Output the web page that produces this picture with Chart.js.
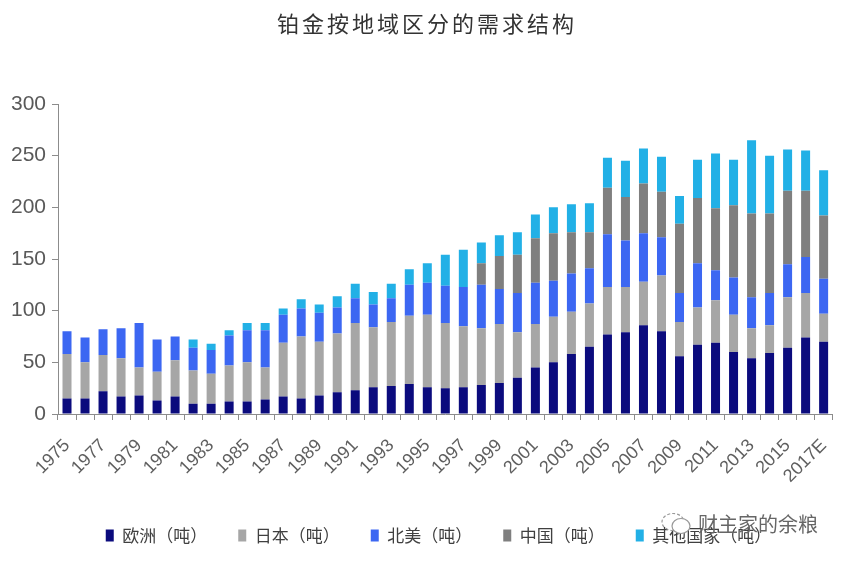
<!DOCTYPE html>
<html>
<head>
<meta charset="utf-8">
<script src="https://cdn.jsdelivr.net/npm/chart.js@4.4.0/dist/chart.umd.min.js"></script>
<style>
  html, body { margin: 0; padding: 0; background: #ffffff; }
  #wrap { position: relative; width: 854px; height: 562px; overflow: hidden; }
  #title { position: absolute; left: 0; top: 6px; width: 854px; text-align: center;
           font-family: "Noto Sans CJK SC", sans-serif; font-size: 22px; color: #333333; letter-spacing: 3px; }
  #wm { position: absolute; left: 660px; top: 509px; font-family: "Noto Sans CJK SC", sans-serif;
        font-size: 20px; color: #666666; display: flex; align-items: center; gap: 4px; }
</style>
</head>
<body>
<div id="wrap">
  <canvas id="c" width="854" height="562"></canvas>
  <div id="title">铂金按地域区分的需求结构</div>
  <div id="wm">
    <svg width="34" height="26" viewBox="0 0 34 26"><ellipse cx="13" cy="11" rx="11" ry="8.5" fill="none" stroke="#999" stroke-width="1.2" stroke-dasharray="3 2"/><ellipse cx="21" cy="15" rx="9" ry="7.5" fill="#fff" stroke="#999" stroke-width="1.2"/></svg>
    <span>财主家的余粮</span>
  </div>
</div>
<script>
const years = ["1975","1976","1977","1978","1979","1980","1981","1982","1983","1984","1985","1986","1987","1988","1989","1990","1991","1992","1993","1994","1995","1996","1997","1998","1999","2000","2001","2002","2003","2004","2005","2006","2007","2008","2009","2010","2011","2012","2013","2014","2015","2016","2017E"];
const europe = [15,15,22,17,18,13,17,10,10,12,12,14,17,15,18,21,23,26,27,29,26,25,26,28,30,35,45,50,58,65,77,79,86,80,56,67,69,60,54,59,64,74,70];
const japan  = [43,35,35,37,27,28,35,32,29,35,38,31,52,60,52,57,65,58,62,66,70,63,59,55,57,44,42,44,41,42,46,44,42,54,33,36,41,36,29,27,49,43,27];
const northAmerica = [22,24,25,29,43,31,23,22,23,29,31,36,27,27,28,25,24,22,23,30,31,36,38,42,34,38,40,35,37,34,51,45,47,37,28,43,29,36,30,31,32,35,34];
const china  = [0,0,0,0,0,0,0,0,0,0,0,0,0,0,0,0,0,0,0,0,0,0,0,21,32,37,43,46,40,35,45,42,48,44,67,63,60,70,81,77,71,64,61];
const others = [0,0,0,0,0,0,0,8,6,5,7,7,6,9,8,11,14,12,14,15,19,30,36,20,20,22,23,25,27,28,29,35,34,34,27,37,53,44,71,56,40,39,44];
const yTicks = [0,50,100,150,200,250,300];

const seriesNames = ["欧洲（吨）","日本（吨）","北美（吨）","中国（吨）","其他国家（吨）"];
const seriesData = [europe, japan, northAmerica, china, others];
const seriesColors = ["#0b0b7d","#a6a6a6","#3c67f2","#7f7f7f","#22b0e6"];

const axisFont = "'Liberation Sans Narrow','Liberation Sans',Arial,sans-serif";

const legendShift = {
  id: 'legendShift',
  afterLayout(chart) {
    if (chart.legend) { chart.legend.left += 16; chart.legend.right += 16; }
  }
};

new Chart(document.getElementById('c'), {
  type: 'bar',
  data: {
    labels: years,
    datasets: seriesNames.map((n, i) => ({
      label: n,
      data: seriesData[i],
      backgroundColor: seriesColors[i],
      borderWidth: 0,
      barPercentage: 0.5,
      categoryPercentage: 1.0
    }))
  },
  plugins: [legendShift],
  options: {
    responsive: false,
    animation: false,
    devicePixelRatio: 1,
    layout: { padding: { top: 104, right: 9, left: 0, bottom: 8 } },
    plugins: {
      title: { display: false },
      tooltip: { enabled: false },
      legend: {
        position: 'bottom',
        labels: {
          boxWidth: 8,
          boxHeight: 12,
          padding: 31,
          color: '#404040',
          font: { family: "'Noto Sans CJK SC', sans-serif", size: 17 }
        }
      }
    },
    scales: {
      x: {
        stacked: true,
        border: { display: true, color: '#8c8c8c', width: 1 },
        grid: { display: true, drawOnChartArea: false, drawTicks: true, tickLength: 6, color: '#8c8c8c', offset: true },
        ticks: {
          autoSkip: false,
          maxRotation: 45,
          minRotation: 45,
          padding: 15,
          color: '#5f5f5f',
          font: { family: axisFont, size: 18 },
          callback: function(v, i) { return i % 2 === 0 ? years[i] : ''; }
        },
        afterFit: function(s) { s.height = 82; }
      },
      y: {
        stacked: true,
        min: 0,
        max: 300,
        border: { display: true, color: '#8c8c8c', width: 1 },
        grid: { display: true, drawOnChartArea: false, drawTicks: true, tickLength: 6, color: '#8c8c8c' },
        afterBuildTicks: function(s) { s.ticks = yTicks.map(v => ({ value: v })); },
        ticks: {
          padding: 6,
          color: '#595959',
          font: { family: axisFont, size: 21 }
        },
        afterFit: function(s) { s.width = 58; }
      }
    }
  }
});
</script>
</body>
</html>
